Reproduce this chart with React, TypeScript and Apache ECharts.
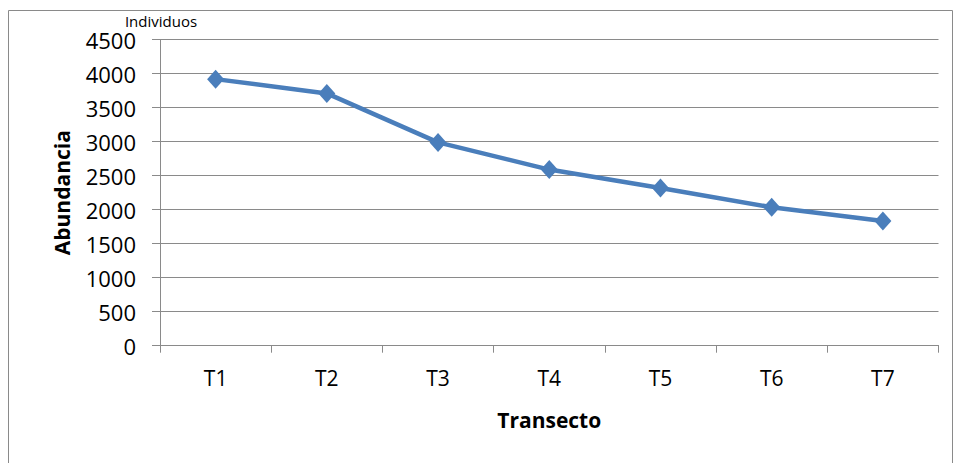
import React, { useEffect, useRef } from "react";
import * as echarts from "echarts";

const categories = ["T1", "T2", "T3", "T4", "T5", "T6", "T7"];
const abundance = [3920, 3710, 2990, 2590, 2320, 2035, 1835];
const yAxisTitle = "Abundancia";
const xAxisTitle = "Transecto";
const unitLabel = "Individuos";

const FONT = "'Open Sans', 'Liberation Sans', sans-serif";

export default function App() {
  const ref = useRef<HTMLDivElement>(null);
  useEffect(() => {
    if (!ref.current) return;
    const chart = echarts.init(ref.current, null, { renderer: "svg" });
    chart.setOption({
      animation: false,
      backgroundColor: "#ffffff",
      grid: { left: 160, right: 22.5, top: 39.7, bottom: 117.3, containLabel: false },
      graphic: [
        {
          type: "rect",
          shape: { x: 8.5, y: 10.5, width: 944, height: 470 },
          style: { fill: "none", stroke: "#8a8a8a", lineWidth: 1 },
          silent: true,
        },
        {
          type: "text",
          x: 161,
          y: 21,
          style: {
            text: unitLabel,
            font: `15px ${FONT}`,
            fill: "#000",
            textAlign: "center",
            textVerticalAlign: "middle",
          },
        },
      ],
      xAxis: {
        type: "category",
        data: categories,
        boundaryGap: true,
        name: xAxisTitle,
        nameLocation: "middle",
        nameGap: 64,
        nameTextStyle: { fontFamily: FONT, fontSize: 21, fontWeight: "bold", color: "#000" },
        axisLine: { show: true, lineStyle: { color: "#8a8a8a", width: 1 } },
        axisTick: { show: true, alignWithLabel: false, length: 7, lineStyle: { color: "#8a8a8a" } },
        axisLabel: { fontFamily: FONT, fontSize: 21, color: "#000", margin: 22 },
        splitLine: { show: false },
      },
      yAxis: {
        type: "value",
        min: 0,
        max: 4500,
        interval: 500,
        name: yAxisTitle,
        nameLocation: "middle",
        nameGap: 88,
        nameRotate: 90,
        nameTextStyle: { fontFamily: FONT, fontSize: 21, fontWeight: "bold", color: "#000" },
        axisLine: { show: true, lineStyle: { color: "#8a8a8a", width: 1 } },
        axisTick: { show: true, length: 8, lineStyle: { color: "#8a8a8a" } },
        axisLabel: {
          fontFamily: FONT,
          fontSize: 22,
          color: "#000",
          margin: 24,
          formatter: (v: number) => String(v),
        },
        splitLine: { show: true, lineStyle: { color: "#8a8a8a", width: 1 } },
      },
      series: [
        {
          type: "line",
          data: abundance,
          symbol: "diamond",
          symbolSize: [17, 19],
          lineStyle: { color: "#4a7ebb", width: 4.5 },
          itemStyle: { color: "#4a7ebb" },
        },
      ],
    });
    return () => chart.dispose();
  }, []);
  return (
    <div
      ref={ref}
      style={{ position: "fixed", left: 0, top: 0, width: 961, height: 463 }}
    />
  );
}
